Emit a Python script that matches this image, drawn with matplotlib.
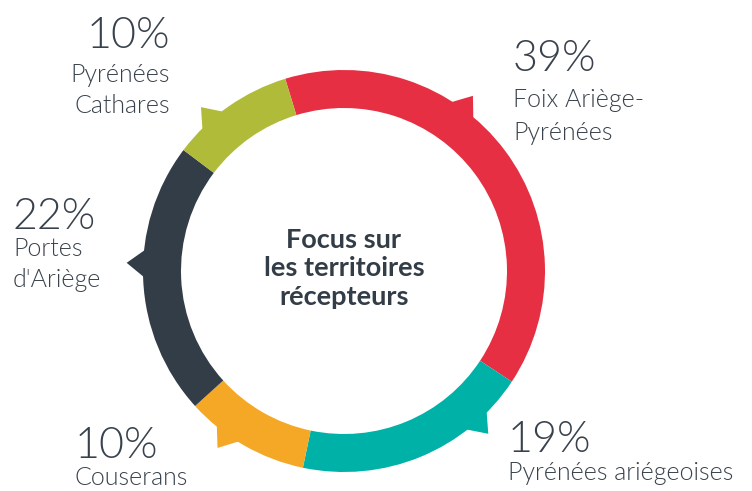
import numpy as np
import matplotlib
matplotlib.use("Agg")
import matplotlib.pyplot as plt
from matplotlib.patches import Polygon

# ---- data ----
territoires = ["Foix Ariège-\nPyrénées", "Pyrénées ariégeoises", "Couserans",
               "Portes\nd'Ariège", "Pyrénées\nCathares"]
parts = [39, 19, 10, 22, 10]
pct_labels = ["39%", "19%", "10%", "22%", "10%"]
colors = ["#E62F42", "#00B1A8", "#F5A825", "#333D47", "#B1BB3A"]
center_title = "Focus sur\nles territoires\nrécepteurs"

# ---- style / layout ----
W, H = 752, 491
TEXT = "#39424C"
cx, cy_px = 344, 271
R, WIDTH = 201, 38
tab_pos = [0.38, 0.22, 0.66, 0.56, 0.33]   # tab position inside each segment
TAB_HALF = 4.7   # degrees
TAB_R = 217.5

fig = plt.figure(figsize=(W / 100, H / 100), dpi=100)
ax = fig.add_axes([0, 0, 1, 1])

def Y(py):
    return H - py

wedges, _ = ax.pie(parts, colors=colors, startangle=107, counterclock=False,
                   radius=R, center=(cx, Y(cy_px)),
                   wedgeprops=dict(width=WIDTH, linewidth=0))

for w, f, c in zip(wedges, tab_pos, colors):
    t1, t2 = w.theta1, w.theta2
    a = np.deg2rad(t2 - f * (t2 - t1))
    h = np.deg2rad(TAB_HALF)
    rb = R - 4
    pts = [(cx + rb * np.cos(a - h), Y(cy_px) + rb * np.sin(a - h)),
           (cx + TAB_R * np.cos(a), Y(cy_px) + TAB_R * np.sin(a)),
           (cx + rb * np.cos(a + h), Y(cy_px) + rb * np.sin(a + h))]
    ax.add_patch(Polygon(pts, closed=True, facecolor=c, edgecolor="none"))

ax.set_xlim(0, W)
ax.set_ylim(0, H)
ax.set_aspect("equal")
ax.axis("off")

FONT = ["Lato", "DejaVu Sans"]
layout = [
    (513, "left", 71, 107, 33),
    (508, "left", 452, 480, 30),
    (75, "left", 458, 485, 30),
    (13, "left", 229, 256, 31),
    (170, "right", 48, 82, 31),
]
for (x, ha, pb, lb, sp), pl, lab in zip(layout, pct_labels, territoires):
    ax.text(x, Y(pb), pl, ha=ha, va="baseline", fontsize=31,
            family=FONT, fontweight=300, color=TEXT)
    for i, line in enumerate(lab.split("\n")):
        ax.text(x, Y(lb + i * sp), line, ha=ha, va="baseline", fontsize=18,
                family=FONT, fontweight=300, color=TEXT)

for i, line in enumerate(center_title.split("\n")):
    ax.text(cx, Y(248 + i * 28.5), line, ha="center", va="baseline",
            fontsize=19.5, family=FONT, fontweight="bold", color="#333D47")

fig.savefig("out.png", dpi=100)
